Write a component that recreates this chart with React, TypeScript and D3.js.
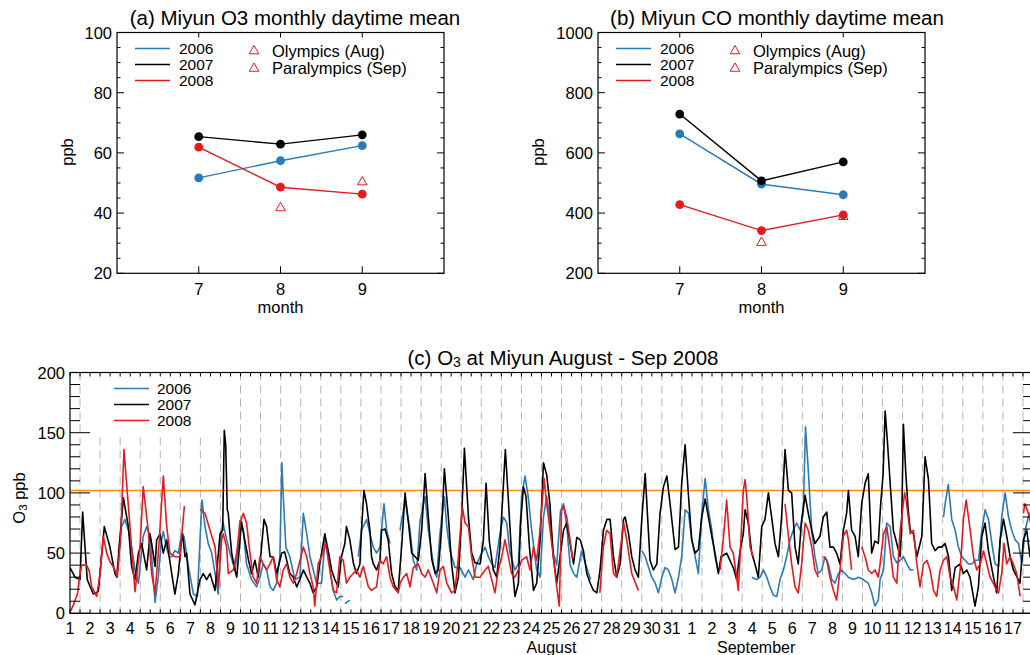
import React, { useEffect, useRef } from "react";
import * as d3 from "d3";

const FONT = "'Liberation Sans', Arial, Helvetica, sans-serif";
const BLUE = "#2a7ab8";
const RED = "#e41a1c";
const ORANGE = "#ff8c00";

// (a), (b) monthly daytime means
const months = [7, 8, 9];
const o3Mean2006 = [51.7, 57.4, 62.4];
const o3Mean2007 = [65.4, 62.9, 66.0];
const o3Mean2008 = [61.9, 48.6, 46.3];
const coMean2006 = [663, 496, 461];
const coMean2007 = [729, 507, 570];
const coMean2008 = [428, 342, 394];
const eventMonths = [8, 9];
const o3Events = [41.7, 50.3];
const coEvents = [302, 388];
const years = ["2006", "2007", "2008"];
const eventLabels = ["Olympics (Aug)", "Paralympics (Sep)"];

// (c) O3 at Miyun, [days since Aug 1 00:00, ppb], null = no data
type Pt = [number, number | null];
const o3Hourly2006: Pt[] = [
  [2.41,50],[2.57,72],[2.74,78],[2.91,69],[3.07,55],[3.24,36],[3.41,25],[3.65,64],[3.82,72],[3.99,64],[4.15,30],[4.24,9],[4.40,30],[4.55,60],[4.65,68],[4.80,55],[4.95,47],[5.07,47],[5.23,52],[5.40,50],[5.56,66],[5.68,64],[5.90,39],[6.15,16],[6.35,14],[6.48,61],[6.58,94],[6.73,72],[6.89,58],[7.06,50],[7.23,33],[7.39,16],[7.51,61],[7.62,76],[7.81,61],[7.97,50],[8.22,36],[8.39,55],
  [8.47,77],[8.64,69],[8.8,41],[9.05,28],[9.3,22],[9.47,30],[9.63,41],[9.8,36],[9.97,22],[10.13,19],[10.3,25],[10.46,47],[10.56,125],[10.63,97],[10.76,55],[10.96,47],[11.21,28],[11.46,30],[11.63,83],[11.8,66],[11.96,47],[12.29,25],[12.54,25],[12.71,61],[12.87,47],[13.12,19],[13.29,11],[13.45,14],[13.62,14],
  [13.66,null],
  [13.7,8],[13.95,11],
  [14.1,null],
  [14.37,47],[14.53,69],[14.78,78],[14.95,66],[15.12,55],[15.28,50],[15.45,55],[15.65,91],[15.78,69],[15.95,58],
  [16.2,null],
  [16.45,69],[16.7,94],[16.95,69],[17.11,44],[17.28,36],[17.45,77],[17.7,97],[17.86,69],[18.11,41],[18.28,30],[18.44,66],[18.66,97],[18.78,72],[18.94,52],[19.19,38],[19.44,38],[19.69,30],[19.86,36],[20.1,28],[20.27,41],[20.52,50],[20.69,55],[20.85,47],[21.02,41],[21.18,38],[21.43,66],[21.6,80],[21.77,75],[21.93,50],[22.18,36],[22.35,41],[22.51,97],[22.68,114],[22.84,97],[23.01,69],[23.26,36],[23.43,30],[23.6,80],[23.76,97],[23.92,80],[24.09,50],[24.26,40],
  [24.45,85],[24.6,91],[24.76,72],[24.93,40],[25.1,33],[25.26,30],[25.5,52],[25.7,41],[25.85,33],[25.95,28],
  [26.2,null],
  [28.5,52],[28.67,47],[28.84,38],[29.0,30],[29.17,25],[29.33,17],[29.5,30],[29.66,38],[29.83,36],[30.0,28],[30.16,17],[30.33,30],[30.49,47],[30.66,86],[30.83,83],[30.99,61],[31.16,47],[31.32,33],[31.49,83],[31.66,112],[31.82,86],[31.99,69],[32.15,47],[32.3,35],
  [33,null],
  [33.98,30],[34.23,28],[34.4,30],[34.56,36],[34.73,30],[34.89,22],[35.06,15],[35.23,14],[35.39,28],[35.56,36],[35.72,47],[35.89,61],[36.05,69],[36.22,75],[36.39,69],[36.55,83],[36.66,155],[36.78,124],[36.97,69],[37.13,47],[37.3,33],[37.47,36],[37.63,47],[37.8,41],[37.97,28],[38.13,25],[38.3,33],[38.46,36],[38.63,33],[38.8,30],[39.05,28],[39.3,30],[39.54,28],[39.79,25],[39.96,17],[40.12,6],[40.29,11],
  [40.38,28],[40.55,36],[40.71,75],[40.88,72],[41.04,47],[41.21,42],[41.38,44],[41.54,47],[41.71,41],[41.88,36],[42.04,36],
  [42.5,null],
  [43.54,80],[43.62,91],[43.78,107],[43.95,78],[44.12,69],[44.28,55],[44.45,47],[44.62,44],[44.78,41],[44.95,41],[45.11,44],[45.28,44],[45.45,69],[45.61,86],[45.78,78],[45.95,58],[46.11,41],[46.28,39],[46.44,80],[46.61,100],[46.78,80],[46.94,69],[47.11,61],[47.28,58],[47.44,41],[47.61,69],[47.77,80],[47.9,85],
];
const o3Hourly2007: Pt[] = [
  [0.00,38],[0.25,30],[0.50,28],[0.63,84],[0.86,28],[1.16,16],[1.41,18],[1.71,72],[1.99,55],[2.24,33],[2.33,30],[2.66,96],[2.91,72],[3.07,39],[3.24,28],[3.41,50],[3.57,58],[3.82,36],[3.99,66],[4.07,58],[4.24,39],[4.32,61],[4.49,66],[4.65,50],[4.82,61],[5.07,33],[5.23,16],[5.40,33],[5.56,61],[5.61,66],[5.73,47],[5.81,50],[5.98,16],[6.23,7],[6.48,28],[6.64,33],[6.81,28],[6.98,33],[7.23,19],[7.48,66],[7.61,69],[7.69,152],[7.76,140],[7.84,86],[7.89,83],[7.97,66],[8.06,50],[8.22,36],[8.31,30],
  [8.47,60],[8.55,76],[8.72,60],[8.9,44],[9.05,33],[9.22,44],[9.38,30],[9.52,50],[9.67,78],[9.8,72],[9.97,47],[10.13,47],[10.3,33],[10.55,50],[10.7,51],[10.96,33],[11.13,30],[11.3,22],[11.46,28],[11.63,36],[11.8,30],[11.96,25],[12.12,17],[12.3,22],[12.46,42],[12.7,66],[12.87,52],[13.04,36],[13.2,28],[13.37,22],[13.53,47],[13.7,58],[13.78,72],[13.95,61],[14.12,42],[14.28,33],[14.45,41],[14.53,69],[14.65,102],[14.78,91],[14.86,80],[14.95,69],[15.03,47],[15.12,41],[15.28,36],[15.45,44],[15.53,69],[15.7,70],[15.86,61],[16.03,33],[16.2,22],[16.36,19],
  [16.55,60],[16.7,100],[16.87,75],[17.03,50],[17.2,47],[17.36,44],[17.53,69],[17.7,116],[17.86,80],[18.03,45],[18.2,33],[18.36,36],[18.53,72],[18.66,120],[18.86,80],[19.02,41],[19.19,17],[19.36,30],[19.52,80],[19.66,137],[19.86,80],[20.02,50],[20.19,42],[20.44,41],[20.6,60],[20.74,108],[20.9,60],[21.1,36],[21.27,30],[21.43,55],[21.7,136],[21.9,80],[22.06,36],[22.18,14],[22.35,25],[22.46,75],[22.6,105],[22.73,97],[22.9,55],[23.1,19],[23.26,25],[23.43,60],[23.6,125],[23.76,115],[23.92,91],[24.09,47],[24.26,25],
  [24.43,47],[24.6,69],[24.76,75],[24.93,58],[25.1,41],[25.26,63],[25.43,61],[25.59,52],[25.76,33],[25.93,25],[26.09,19],[26.26,17],[26.42,36],[26.59,69],[26.76,78],[26.92,78],[27.09,47],[27.25,30],[27.42,41],[27.59,78],[27.67,80],[27.84,66],[28.0,47],[28.17,36],[28.33,30],[28.5,78],[28.67,116],[28.78,83],[28.91,44],[29.08,36],[29.25,41],[29.41,83],[29.58,105],[29.75,114],[29.91,91],[30.16,53],[30.33,55],[30.49,108],[30.66,140],[30.83,97],[30.99,61],[31.16,50],[31.32,53],[31.49,80],[31.66,95],[31.82,80],[31.99,64],[32.15,50],[32.32,33],
  [32.45,47],[32.73,50],[33.06,38],[33.23,28],[33.4,52],[33.56,66],[33.65,86],[33.81,75],[33.98,50],[34.14,41],[34.31,30],[34.48,72],[34.64,78],[34.81,100],[34.97,80],[35.14,58],[35.31,47],[35.47,80],[35.64,136],[35.81,102],[35.97,100],[36.14,55],[36.3,41],[36.47,78],[36.64,98],[36.8,83],[36.97,69],[37.13,58],[37.38,64],[37.55,80],[37.72,84],[37.88,55],[38.05,55],[38.21,50],[38.38,41],[38.55,69],[38.71,83],[38.8,102],[38.96,69],[39.13,64],[39.29,47],[39.46,91],[39.63,108],[39.79,116],[39.96,50],[40.12,60],[40.29,58],
  [40.40,89],[40.53,116],[40.63,168],[40.75,141],[40.88,108],[41.04,69],[41.21,58],[41.38,47],[41.45,72],[41.54,157],[41.66,116],[41.78,86],[41.88,69],[42.04,66],[42.21,47],
  [42.46,64],[42.62,130],[42.79,111],[42.95,58],[43.12,52],[43.29,55],[43.45,55],[43.62,58],[43.79,47],[43.95,19],[44.12,38],[44.37,41],[44.53,33],[44.7,36],[44.86,30],[45.11,6],[45.28,22],[45.45,64],[45.61,75],[45.78,52],[46.03,30],[46.19,17],[46.36,61],[46.53,78],[46.69,64],[46.86,47],[47.02,36],[47.27,28],[47.35,25],[47.52,61],[47.69,69],[47.85,47],[47.98,57],
];
const o3Hourly2008: Pt[] = [
  [0.00,1],[0.17,7],[0.37,16],[0.50,33],[0.58,40],[0.83,40],[0.96,35],[1.08,22],[1.33,14],[1.50,33],[1.66,64],[1.83,50],[1.99,43],[2.24,36],[2.36,30],[2.52,61],[2.69,136],[2.91,89],[3.07,55],[3.24,18],[3.49,55],[3.65,105],[3.90,69],[4.07,33],[4.24,16],[4.45,61],[4.65,114],[4.82,72],[4.98,50],[5.23,47],[5.48,47],[5.61,72],[5.70,89],
  [6.0,null],
  [6.48,86],[6.73,83],[6.98,69],[7.23,55],[7.39,22],[7.56,61],[7.64,66],[7.81,55],[7.89,33],[8.14,36],[8.31,50],
  [8.47,75],[8.64,83],[8.8,75],[8.97,50],[9.13,30],[9.3,25],[9.47,47],[9.63,41],[9.8,36],[9.97,41],[10.13,47],[10.3,28],[10.46,22],[10.63,36],[10.8,41],[10.96,30],[11.13,25],[11.3,33],[11.63,55],[11.8,47],[11.96,33],[12.12,22],[12.2,6],[12.37,41],[12.54,47],[12.75,58],[12.95,36],[13.12,19],[13.29,17],[13.45,47],[13.62,44],[13.78,25],[13.95,30],[14.12,33],[14.28,36],[14.45,30],[14.62,39],[14.87,22],[15.03,19],[15.28,22],[15.45,44],[15.61,41],[15.78,47],[15.95,30],[16.11,22],[16.36,17],
  [16.45,25],[16.62,30],[16.78,33],[16.95,22],[17.11,38],[17.36,41],[17.53,33],[17.7,30],[17.86,36],[18.11,25],[18.28,17],[18.44,36],[18.61,39],[18.78,25],[19.02,17],[19.19,19],[19.36,47],[19.55,89],[19.69,75],[19.86,72],[20.02,47],[20.19,30],[20.44,30],[20.69,36],[20.85,39],[21.02,28],[21.18,17],[21.35,36],[21.52,47],[21.68,61],[21.85,47],[22.01,33],[22.18,30],[22.35,36],[22.51,44],[22.76,47],[22.93,36],[23.1,55],[23.26,44],[23.43,69],[23.63,112],[23.76,91],[23.93,69],[24.09,47],[24.26,22],[24.39,6],
  [24.5,85],[24.6,89],[24.76,80],[24.93,60],[25.05,45],
  [25.5,null],
  [26.41,17],[26.58,55],[26.75,69],[26.92,66],[27.09,33],[27.25,30],[27.42,52],[27.6,75],[27.76,60],[28.0,33],[28.33,19],
  [30,null],
  [32.4,36],[32.56,61],[32.73,94],[32.9,55],[33.06,50],[33.23,30],[33.31,19],[33.4,47],[33.56,102],[33.65,111],[33.73,97],[33.9,55],[34.06,47],
  [34.5,null],
  [35.64,91],[35.81,64],[35.97,41],[36.14,22],[36.3,17],[36.47,41],[36.64,75],[36.8,69],[36.97,55],[37.13,36],[37.3,30],
  [37.35,null],
  [37.55,47],[37.72,44],[37.88,30],[38.05,19],[38.21,11],[38.38,36],[38.55,64],[38.71,69],[38.8,61],[38.96,36],
  [39.2,null],
  [39.46,55],[39.63,47],[39.79,36],[39.96,33],[40.12,36],[40.29,30],
  [40.38,41],[40.55,66],[40.71,72],[40.88,52],[41.04,30],[41.21,25],[41.38,69],[41.6,100],[41.68,94],[41.88,66],[42.04,69],[42.21,41],[42.37,22],[42.54,41],[42.71,44],[42.87,36],[43.04,19],[43.2,14],[43.37,36],[43.54,44],[43.7,47],[43.87,30],[44.04,22],[44.2,11],[44.37,36],[44.53,78],[44.67,94],[44.87,69],[45.03,47],[45.2,36],[45.37,41],[45.53,52],[45.7,41],[45.86,30],[46.11,22],[46.28,17],[46.44,33],[46.56,58],[46.69,41],[46.86,47],[47.02,41],[47.19,33],[47.36,14],
  [47.4,null],
  [47.52,83],[47.6,91],[47.77,83],[47.95,70],
];
const dayLabels = [
  "1","2","3","4","5","6","7","8","9","10","11","12","13","14","15","16",
  "17","18","19","20","21","22","23","24","25","26","27","28","29","30","31",
  "1","2","3","4","5","6","7","8","9","10","11","12","13","14","15","16","17",
];
const o3Standard = 102;

function txt(g, x, y, s, size, anchor = "middle") {
  return g
    .append("text")
    .attr("x", x)
    .attr("y", y)
    .attr("font-size", size)
    .attr("text-anchor", anchor)
    .attr("dominant-baseline", "central")
    .text(s);
}

//top panels: monthly mean with 3 years + olympic triangles
function drawMonthly(svg, p) {
  const top = 32.5;
  const bottom = 273.3;
  const x = d3.scaleLinear().domain([6, 10]).range([p.left, p.left + 327]);
  const y = d3.scaleLinear().domain(p.yDomain).range([bottom, top]);
  const g = svg.append("g").attr("font-family", FONT);

  const minor = d3.range(p.yDomain[0], p.yDomain[1] + 0.001, p.minorStep);
  minor.forEach((v) => {
    const len = v % p.majorStep === 0 ? 7 : 3.5;
    g.append("line").attr("x1", x(6)).attr("x2", x(6) + len).attr("y1", y(v)).attr("y2", y(v)).attr("stroke", "#000");
    g.append("line").attr("x1", x(10)).attr("x2", x(10) - len).attr("y1", y(v)).attr("y2", y(v)).attr("stroke", "#000");
    if (v % p.majorStep === 0) txt(g, x(6) - 5, y(v), String(v), 16.5, "end");
  });
  months.forEach((m) => {
    g.append("line").attr("x1", x(m)).attr("x2", x(m)).attr("y1", bottom).attr("y2", bottom - 7).attr("stroke", "#000");
    g.append("line").attr("x1", x(m)).attr("x2", x(m)).attr("y1", top).attr("y2", top + 5).attr("stroke", "#000");
    txt(g, x(m), 289, String(m), 16.5);
  });
  g.append("rect")
    .attr("x", x(6)).attr("y", top).attr("width", x(10) - x(6)).attr("height", bottom - top)
    .attr("fill", "none").attr("stroke", "#000").attr("stroke-width", 1.2);

  txt(g, p.titleX, 17, p.title, 20.5);
  txt(g, (x(6) + x(10)) / 2, 307, "month", 16.5);
  txt(g, 0, 0, "ppb", 16.5).attr("transform", `translate(${p.ylabelX},152) rotate(-90)`);

  // legend
  const colors = [BLUE, "#000", RED];
  years.forEach((yr, i) => {
    const ly = 48.5 + i * 16;
    g.append("line").attr("x1", x(6) + 18).attr("x2", x(6) + 53).attr("y1", ly).attr("y2", ly)
      .attr("stroke", colors[i]).attr("stroke-width", 1.5);
    txt(g, x(6) + 62, ly - 0.5, yr, 15.5, "start");
  });
  const tri = d3.symbol().type(d3.symbolTriangle).size(40);
  eventLabels.forEach((lab, i) => {
    const ly = 51 + i * 17.5;
    g.append("path").attr("d", tri()).attr("transform", `translate(${x(6) + 137},${ly})`)
      .attr("fill", "none").attr("stroke", RED).attr("stroke-width", 1);
    txt(g, x(6) + 155, ly - 0.5, lab, 16.5, "start");
  });

  const line = d3.line<number>().x((d, i) => x(months[i])).y((d) => y(d));
  p.series.forEach((s, i) => {
    g.append("path").attr("d", line(s)).attr("fill", "none").attr("stroke", colors[i]).attr("stroke-width", 1.4);
  });
  p.series.forEach((s, i) => {
    s.forEach((v, j) => {
      g.append("circle").attr("cx", x(months[j])).attr("cy", y(v)).attr("r", 4.4).attr("fill", colors[i]);
    });
  });
  p.events.forEach((v, j) => {
    g.append("path").attr("d", tri()).attr("transform", `translate(${x(eventMonths[j])},${y(v)})`)
      .attr("fill", "none").attr("stroke", RED).attr("stroke-width", 1);
  });
}

//bottom panel: O3 time series Aug 1 - Sep 17
function drawHourly(svg) {
  const left = 70;
  const right = 1033;
  const top = 372.5;
  const bottom = 613.3;
  const x = d3.scaleLinear().domain([0, 48]).range([left, right]);
  const y = d3.scaleLinear().domain([0, 200]).range([bottom, top]);
  const g = svg.append("g").attr("font-family", FONT);

  svg.append("defs").append("clipPath").attr("id", "clipC").append("rect")
    .attr("x", left).attr("y", top).attr("width", right - left).attr("height", bottom - top);

  d3.range(48).forEach((i) => {
    g.append("line").attr("x1", x(i + 0.5)).attr("x2", x(i + 0.5)).attr("y1", top).attr("y2", bottom)
      .attr("stroke", "#b4b4b4").attr("stroke-dasharray", "8,5");
  });
  // legend box hides the grid
  g.append("rect").attr("x", 90).attr("y", top + 1).attr("width", 140).attr("height", 61).attr("fill", "#fff");

  g.append("line").attr("x1", left).attr("x2", right).attr("y1", y(o3Standard)).attr("y2", y(o3Standard))
    .attr("stroke", ORANGE).attr("stroke-width", 1.5);

  const line = d3.line<Pt>().defined((d) => d[1] != null).x((d) => x(d[0])).y((d) => y(d[1] as number));
  const plot = g.append("g").attr("clip-path", "url(#clipC)");
  [[o3Hourly2006, BLUE], [o3Hourly2007, "#000"], [o3Hourly2008, RED]].forEach(([data, color]) => {
    plot.append("path").attr("d", line(data as Pt[])).attr("fill", "none").attr("stroke", color as string)
      .attr("stroke-width", 1.6).attr("stroke-linejoin", "round");
  });

  g.append("rect").attr("x", left).attr("y", top).attr("width", right - left).attr("height", bottom - top)
    .attr("fill", "none").attr("stroke", "#000").attr("stroke-width", 1.2);

  d3.range(0, 200.1, 10).forEach((v) => {
    const len = v % 50 === 0 ? 20 : 10;
    g.append("line").attr("x1", left).attr("x2", left + len).attr("y1", y(v)).attr("y2", y(v)).attr("stroke", "#000");
    g.append("line").attr("x1", right).attr("x2", right - len).attr("y1", y(v)).attr("y2", y(v)).attr("stroke", "#000");
    if (v % 50 === 0) txt(g, left - 5, y(v), String(v), 16.5, "end");
  });
  d3.range(0, 48.01, 0.5).forEach((t) => {
    g.append("line").attr("x1", x(t)).attr("x2", x(t)).attr("y1", top).attr("y2", top + 4).attr("stroke", "#000");
    g.append("line").attr("x1", x(t)).attr("x2", x(t)).attr("y1", bottom).attr("y2", bottom - 4).attr("stroke", "#000");
  });
  dayLabels.forEach((s, i) => txt(g, x(i), 628, s, 16));
  txt(g, x(24), 647, "August", 16);
  txt(g, x(34.2), 647, "September", 16);

  const title = txt(g, 563, 357, "", 20.5);
  title.append("tspan").text("(c) O");
  title.append("tspan").attr("font-size", 14).attr("dy", 5).text("3");
  title.append("tspan").attr("dy", -5).text(" at Miyun August - Sep 2008");

  const yl = txt(g, 0, 0, "", 16.5).attr("transform", "translate(19,498) rotate(-90)");
  yl.append("tspan").text("O");
  yl.append("tspan").attr("font-size", 11.5).attr("dy", 4).text("3");
  yl.append("tspan").attr("dy", -4).text(" ppb");

  const colors = [BLUE, "#000", RED];
  years.forEach((yr, i) => {
    const ly = 388.5 + i * 16;
    g.append("line").attr("x1", 114).attr("x2", 149).attr("y1", ly).attr("y2", ly)
      .attr("stroke", colors[i]).attr("stroke-width", 1.5);
    txt(g, 157, ly - 0.5, yr, 15.5, "start");
  });
}

export default function App() {
  const ref = useRef<SVGSVGElement>(null);

  useEffect(() => {
    const svg = d3.select(ref.current);
    svg.selectAll("*").remove();

    drawMonthly(svg, {
      left: 117,
      title: "(a) Miyun O3 monthly daytime mean",
      titleX: 295,
      ylabelX: 67,
      yDomain: [20, 100],
      majorStep: 20,
      minorStep: 5,
      series: [o3Mean2006, o3Mean2007, o3Mean2008],
      events: o3Events,
    });
    drawMonthly(svg, {
      left: 598,
      title: "(b) Miyun CO monthly daytime mean",
      titleX: 777,
      ylabelX: 538,
      yDomain: [200, 1000],
      majorStep: 200,
      minorStep: 50,
      series: [coMean2006, coMean2007, coMean2008],
      events: coEvents,
    });
    drawHourly(svg);
  }, []);

  return (
    <svg
      ref={ref}
      width={1030}
      height={655}
      style={{ position: "absolute", left: 0, top: 0, background: "#fff" }}
    />
  );
}
